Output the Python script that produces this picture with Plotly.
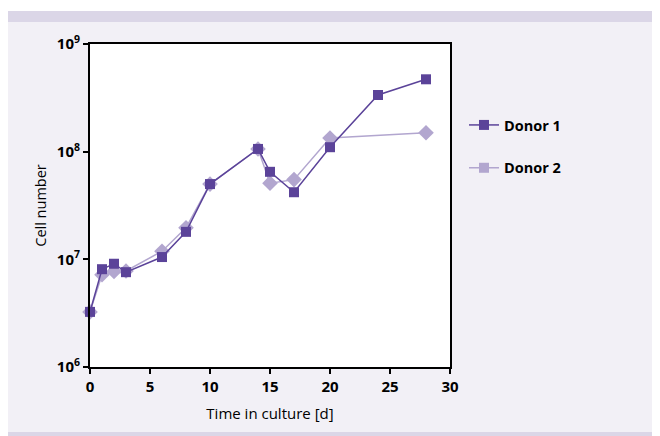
import plotly.graph_objects as go

days_d1 = [0, 1, 2, 3, 6, 8, 10, 14, 15, 17, 20, 24, 28]
cells_d1 = [3.25e6, 8.1e6, 9.1e6, 7.6e6, 1.05e7, 1.8e7, 5.0e7, 1.06e8, 6.5e7, 4.2e7, 1.1e8, 3.36e8, 4.7e8]
days_d2 = [0, 1, 2, 3, 6, 8, 10, 14, 15, 17, 20, 28]
cells_d2 = [3.25e6, 7.2e6, 7.7e6, 7.8e6, 1.19e7, 1.96e7, 5.0e7, 1.06e8, 5.1e7, 5.5e7, 1.34e8, 1.5e8]
y_tickvals = [1e6, 1e7, 1e8, 1e9]
y_ticktext = ["10<sup>6</sup>", "10<sup>7</sup>", "10<sup>8</sup>", "10<sup>9</sup>"]
x_tickvals = [0, 5, 10, 15, 20, 25, 30]

C1 = "#5b4399"
C2 = "#b2a6cf"
FONT = "Open Sans"

OFF = 8  # page body margin
W, H = 668, 436 - OFF
L, R, T, B = 90 - OFF, 450 - OFF, 44 - OFF, 367 - OFF

def fx(px):
    return (px - OFF - L) / (R - L)

def fy(py):
    return (B - (py - OFF)) / (B - T)

fig = go.Figure()
fig.add_trace(go.Scatter(x=days_d2, y=cells_d2, mode="lines+markers", name="Donor 2",
                         line=dict(color=C2, width=1.5), cliponaxis=False,
                         marker=dict(symbol="diamond", size=12, color=C2), showlegend=False))
fig.add_trace(go.Scatter(x=days_d1, y=cells_d1, mode="lines+markers", name="Donor 1",
                         line=dict(color=C1, width=1.5), cliponaxis=False,
                         marker=dict(symbol="square", size=10, color=C1), showlegend=False))
# legend entries
fig.add_trace(go.Scatter(x=[None], y=[None], mode="lines+markers", name="Donor 1",
                         line=dict(color=C1, width=1.5), legendgroup="a",
                         marker=dict(symbol="square", size=10, color=C1)))
fig.add_trace(go.Scatter(x=[None], y=[None], mode="lines+markers", name="Donor 2",
                         line=dict(color=C2, width=1.5), legendgroup="b",
                         marker=dict(symbol="square", size=10, color=C2)))

shapes = [
    dict(type="rect", xref="paper", yref="paper", x0=fx(0), x1=fx(690), y0=fy(22), y1=fy(432),
         fillcolor="#f2f0f6", line=dict(width=0), layer="below"),
    dict(type="rect", xref="paper", yref="paper", x0=fx(0), x1=fx(690), y0=fy(11), y1=fy(22),
         fillcolor="#dbd6e7", line=dict(width=0), layer="below"),
    dict(type="rect", xref="paper", yref="paper", x0=fx(0), x1=fx(690), y0=fy(432), y1=fy(460),
         fillcolor="#dbd6e7", line=dict(width=0), layer="below"),
    dict(type="rect", xref="paper", yref="paper", x0=0, x1=1, y0=0, y1=1,
         fillcolor="white", line=dict(width=0), layer="below"),
]

fig.update_layout(
    width=W, height=H,
    margin=dict(l=L, r=W - R, t=T, b=H - B),
    paper_bgcolor="white", plot_bgcolor="white",
    font=dict(family=FONT, color="black"),
    shapes=shapes,
    showlegend=True,
    legend=dict(x=fx(464), y=fy(109), xanchor="left", yanchor="top", itemwidth=30,
                bgcolor="rgba(0,0,0,0)", tracegroupgap=21,
                font=dict(family=FONT, size=14.5, color="black", weight="bold")),
    xaxis=dict(range=[0, 30], tickvals=x_tickvals, ticks="outside", ticklen=5, tickwidth=1.5,
               tickcolor="black", showline=True, linecolor="black", linewidth=2, mirror=True,
               showgrid=False, zeroline=False,
               tickfont=dict(family=FONT, size=15, weight="bold"),
               title=dict(text="Time in culture [d]", font=dict(family=FONT, size=15), standoff=13)),
    yaxis=dict(type="log", range=[6, 9], tickvals=y_tickvals, ticktext=y_ticktext,
               ticks="outside", ticklen=5, tickwidth=1.5, tickcolor="black",
               showline=True, linecolor="black", linewidth=2, mirror=True,
               showgrid=False, zeroline=False,
               tickfont=dict(family=FONT, size=15, weight="bold"),
               title=dict(text="Cell number", font=dict(family=FONT, size=14.5), standoff=7)),
)

fig.write_html("out.html")
